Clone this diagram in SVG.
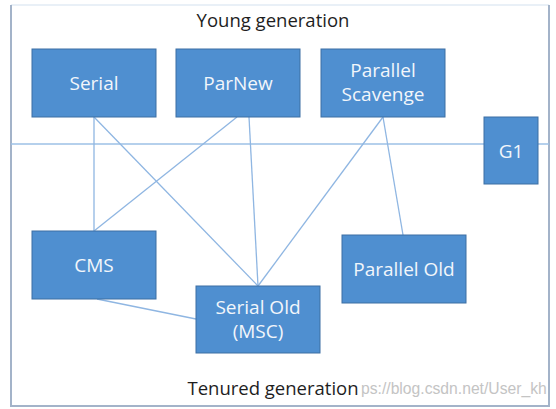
<svg xmlns="http://www.w3.org/2000/svg" width="556" height="409" viewBox="0 0 556 409">
  <style>
    .box { fill: #4f8fd0; stroke: #3c6fa3; stroke-width: 1; }
    .lbl { font-family: "Open Sans", "Noto Sans", sans-serif; font-size: 19px; fill: #f2f6fb; text-anchor: middle; }
    .title { font-family: "Open Sans", "Noto Sans", sans-serif; font-size: 18.5px; fill: #1e1e1e; text-anchor: middle; }
    .conn { stroke: #8fb6e2; stroke-width: 1.3; fill: none; }
    .frame { stroke: #a3b3c9; stroke-width: 2; fill: none; }
    .wm { font-family: "Liberation Sans", Arial, sans-serif; font-size: 15.7px; fill: #c4c4c4; }
  </style>
  <rect x="0" y="0" width="556" height="409" fill="#ffffff"/>
  <g id="frame">
    <line x1="11" y1="5" x2="549" y2="5" stroke="#e2ebf5" stroke-width="1.5"/>
    <polyline class="frame" points="11,5 11,406 549,406 549,5"/>
    <line x1="11" y1="144" x2="549" y2="144" stroke="#9dc0e6" stroke-width="1.3"/>
  </g>
  <text class="title" x="273" y="27">Young generation</text>
  <text class="title" x="273" y="395">Tenured generation</text>
  <text class="wm" x="361" y="394">ps://blog.csdn.net/User_kh</text>
  <g id="connectors">
    <line class="conn" x1="94" y1="117" x2="94" y2="231"/>
    <line class="conn" x1="94" y1="117" x2="258" y2="286"/>
    <line class="conn" x1="237" y1="117" x2="94" y2="231"/>
    <line class="conn" x1="249" y1="117" x2="258" y2="286"/>
    <line class="conn" x1="383" y1="117" x2="258" y2="286"/>
    <line class="conn" x1="383" y1="117" x2="403" y2="235"/>
    <line class="conn" x1="97" y1="299" x2="196" y2="319"/>
  </g>
  <g id="serial">
    <rect class="box" x="32" y="49" width="124" height="68"/>
    <text class="lbl" x="94" y="90">Serial</text>
  </g>
  <g id="parnew">
    <rect class="box" x="176" y="49" width="124" height="68"/>
    <text class="lbl" x="238" y="90">ParNew</text>
  </g>
  <g id="parallel-scavenge">
    <rect class="box" x="321" y="49" width="124" height="68"/>
    <text class="lbl"><tspan x="383" y="77">Parallel</tspan><tspan x="383" y="101">Scavenge</tspan></text>
  </g>
  <g id="g1">
    <rect class="box" x="484" y="117" width="54" height="67"/>
    <text class="lbl" x="511" y="158">G1</text>
  </g>
  <g id="cms">
    <rect class="box" x="32" y="231" width="124" height="68"/>
    <text class="lbl" x="94" y="272">CMS</text>
  </g>
  <g id="serial-old">
    <rect class="box" x="196" y="286" width="124" height="67"/>
    <text class="lbl"><tspan x="258" y="314">Serial Old</tspan><tspan x="258" y="338">(MSC)</tspan></text>
  </g>
  <g id="parallel-old">
    <rect class="box" x="342" y="235" width="124" height="68"/>
    <text class="lbl" x="404" y="276">Parallel Old</text>
  </g>
</svg>
